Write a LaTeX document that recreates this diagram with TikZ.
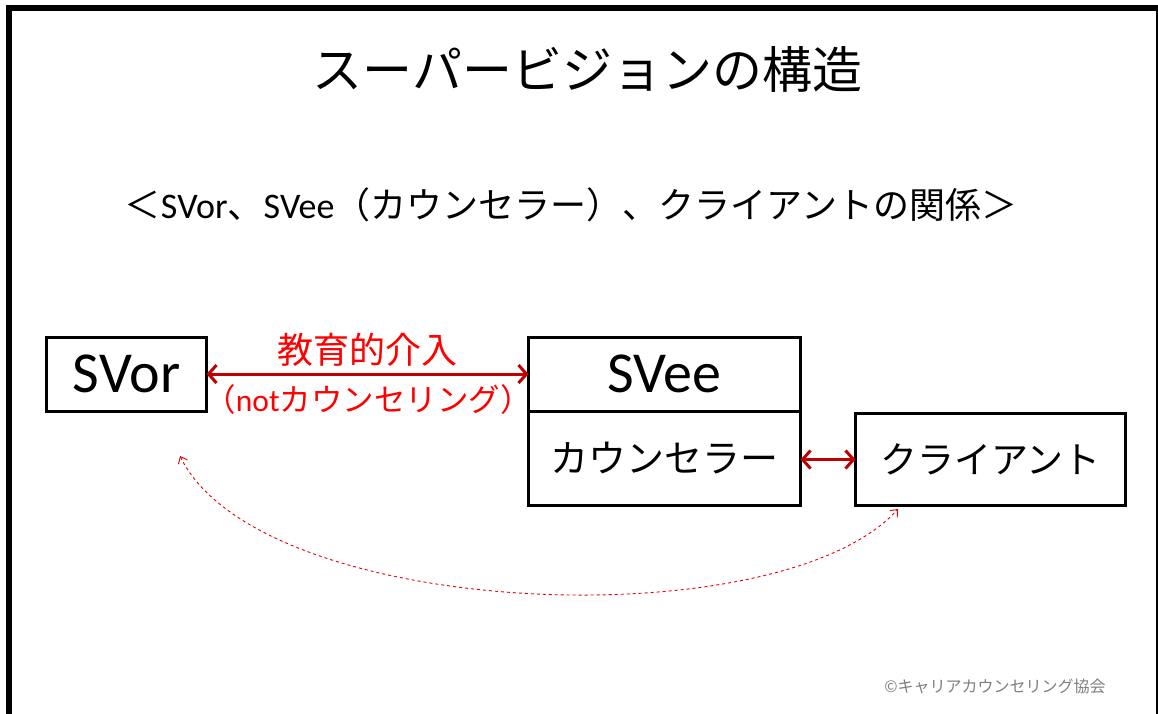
\documentclass[tikz,border=0pt]{standalone}
\usepackage{fontspec}
\setmainfont{Carlito}
\newfontfamily\jp{Noto Sans CJK JP}
\newcommand{\J}[1]{{\jp #1}}
\usetikzlibrary{arrows.meta}
\definecolor{darkred}{HTML}{C00000}
\definecolor{brightred}{HTML}{FF0000}
\definecolor{copygray}{HTML}{7F7F7F}
\tikzset{
  box/.style={draw=black, line width=3pt, inner sep=0pt, outer sep=0pt},
  relarrow/.style={draw=darkred, line width=3pt, {Straight Barb[length=8pt,width=18pt]}-{Straight Barb[length=8pt,width=18pt]}},
  dasharrow/.style={draw=brightred!90!black, line width=0.9pt, dash pattern=on 3pt off 3pt, {Straight Barb[length=6pt,width=10pt]}-{Straight Barb[length=6pt,width=10pt]}},
  redlabel/.style={text=brightred, inner sep=0pt},
}
\begin{document}
\begin{tikzpicture}[x=1pt,y=-1pt]
\useasboundingbox (0,0) rectangle (1158,713);
\fill[white] (0,0) rectangle (1158,713);
% frame
\draw[line width=6pt, line cap=rect] (9,720) -- (9,8) -- (1157,8);
\draw[line width=2pt] (1157,8) -- (1157,720);
% titles
\node[inner sep=0pt] (title) at (587.5,69) {\fontsize{50}{60}\selectfont\J{スーパービジョンの構造}};
\node[inner sep=0pt] (subtitle) at (571,205) {\fontsize{36}{44}\selectfont\J{＜}SVor\J{、}SVee\J{（カウンセラー）、クライアントの関係＞}};
% boxes
\node[box, minimum width=160pt, minimum height=74pt] (svor) at (126.5,374) {\fontsize{58}{64}\selectfont SVor};
\node[box, minimum width=272pt, minimum height=74pt] (svee) at (664.5,374) {\fontsize{58}{64}\selectfont SVee};
\node[box, minimum width=272pt, minimum height=94pt, anchor=north] (counselor) at (svee.south) {\fontsize{38}{44}\selectfont\J{カウンセラー}};
\node[box, minimum width=270pt, minimum height=92pt] (client) at (990.5,459.5) {\fontsize{37}{44}\selectfont\J{クライアント}};
% arrows
\draw[relarrow] (svor.east) -- (svee.west);
\draw[relarrow] (counselor.east |- client.west) -- (client.west);
\node[redlabel] (lab1) at (367.5,350) {\fontsize{36}{42}\selectfont\J{教育的介入}};
\node[redlabel] (lab2) at (368,400) {\fontsize{31.5}{36}\selectfont\J{（}not\J{カウンセリング）}};
% dashed curve
\coordinate (dA) at (180,456);
\coordinate (dB) at (898,509);
\draw[dasharrow] (dA) .. controls (260,620) and (780,640) .. (dB);
% copyright
\node[text=copygray, inner sep=0pt] (copy) at (995,686) {\fontsize{16}{20}\selectfont\J{©キャリアカウンセリング協会}};
\end{tikzpicture}
\end{document}
